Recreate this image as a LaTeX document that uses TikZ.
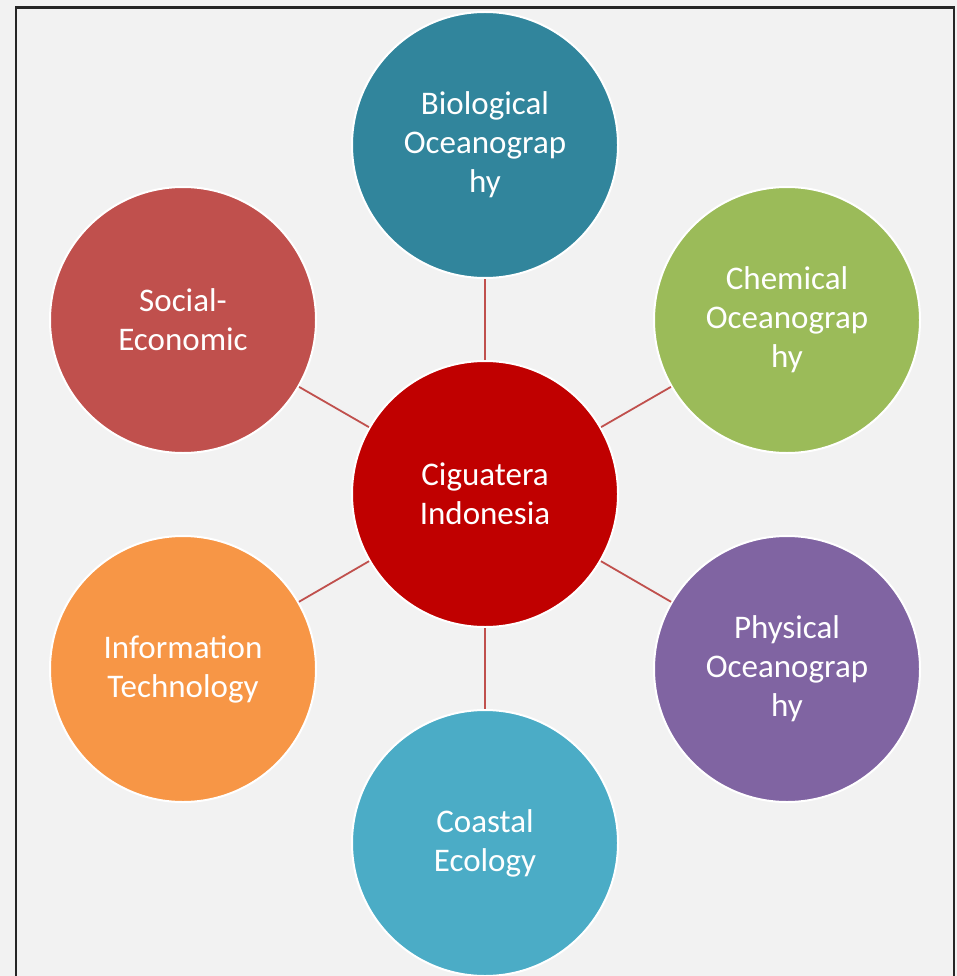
\documentclass[tikz,border=0pt]{standalone}
\usepackage{fontspec}
\setmainfont{Carlito}
\definecolor{bgcol}{HTML}{F2F2F2}
\definecolor{hubred}{HTML}{C00000}
\definecolor{linkred}{HTML}{C0504D}
\definecolor{bioteal}{HTML}{31859C}
\definecolor{chemgreen}{HTML}{9BBB59}
\definecolor{physpurple}{HTML}{8064A2}
\definecolor{coastblue}{HTML}{4BACC6}
\definecolor{infoorange}{HTML}{F79646}
\definecolor{socialred}{HTML}{C0504D}
\tikzset{
  bubble/.style={circle, draw=white, line width=2pt, minimum size=266pt, inner sep=0pt,
    text=white, align=center, font=\fontsize{33}{39}\selectfont},
  link/.style={draw=linkred, line width=1.8pt}
}
\begin{document}
\begin{tikzpicture}[x=1pt,y=-1pt]
  % canvas and frame
  \fill[bgcol] (0,0) rectangle (957,976);
  \useasboundingbox (0,0) rectangle (957,976);
  \draw[black!85, line width=2.2pt] (16,990) -- (16,7.5) -- (954,7.5) -- (954,990);

  % hub and topic circles
  \node[bubble, fill=hubred] (hub) at (485,494) {Ciguatera\\Indonesia};
  \node[bubble, fill=bioteal] (bio) at (485,145) {Biological\\Oceanograp\\hy};
  \node[bubble, fill=chemgreen] (chem) at (787,320) {Chemical\\Oceanograp\\hy};
  \node[bubble, fill=physpurple] (phys) at (787,669) {Physical\\Oceanograp\\hy};
  \node[bubble, fill=coastblue] (coast) at (485,843) {Coastal\\Ecology};
  \node[bubble, fill=infoorange] (info) at (183,669) {Information\\Technology};
  \node[bubble, fill=socialred] (social) at (183,320) {Social-\\Economic};

  % spokes
  \foreach \t in {bio,chem,phys,coast,info,social}
    \draw[link] (hub) -- (\t);
\end{tikzpicture}
\end{document}
